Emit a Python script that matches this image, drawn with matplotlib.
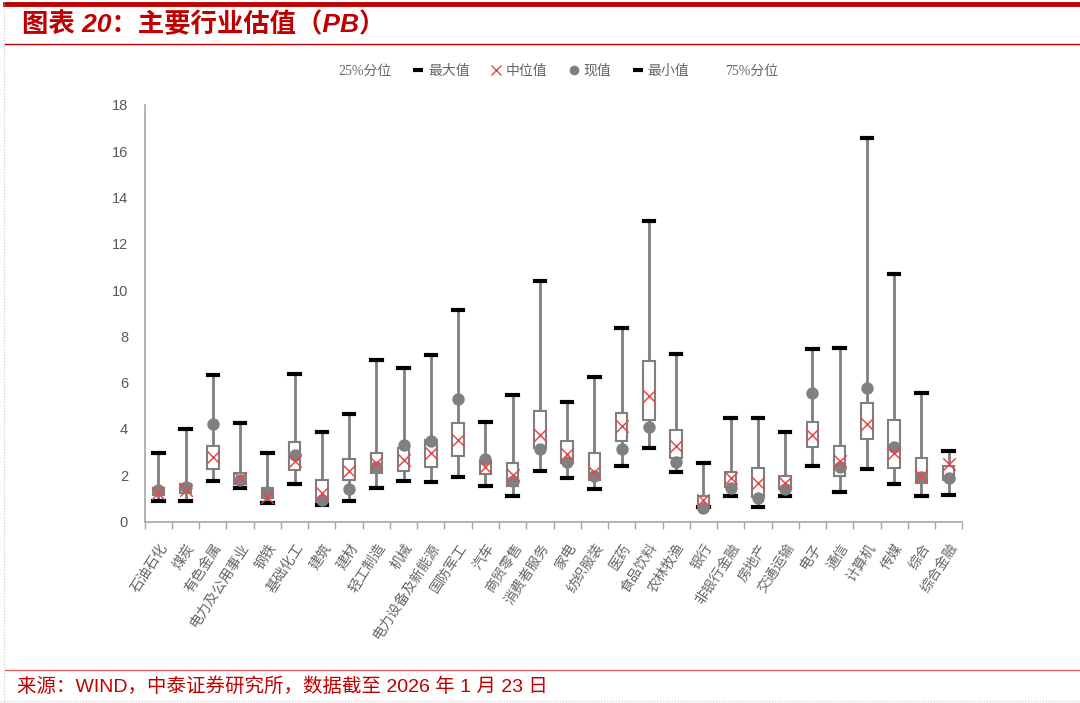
import numpy as np
import matplotlib
matplotlib.use("Agg")
import matplotlib.pyplot as plt
from matplotlib.lines import Line2D

plt.rcParams["font.family"] = ["Liberation Sans", "Noto Sans CJK SC", "DejaVu Sans"]

industries = ["石油石化", "煤炭", "有色金属", "电力及公用事业", "钢铁", "基础化工", "建筑", "建材",
              "轻工制造", "机械", "电力设备及新能源", "国防军工", "汽车", "商贸零售", "消费者服务",
              "家电", "纺织服装", "医药", "食品饮料", "农林牧渔", "银行", "非银行金融", "房地产",
              "交通运输", "电子", "通信", "计算机", "传媒", "综合", "综合金融"]
pb_max = [2.95, 3.99, 6.33, 4.24, 2.95, 6.37, 3.86, 4.63, 6.98, 6.63, 7.20, 9.12, 4.29, 5.47, 10.40,
          5.15, 6.26, 8.35, 12.96, 7.24, 2.53, 4.49, 4.49, 3.88, 7.44, 7.48, 16.55, 10.69, 5.54, 3.05]
pb_q3 = [1.44, 1.63, 3.28, 2.12, 1.44, 3.42, 1.80, 2.69, 2.98, 3.17, 3.53, 4.27, 2.62, 2.52, 4.79,
         3.48, 2.95, 4.71, 6.94, 3.96, 1.12, 2.16, 2.30, 1.97, 4.32, 3.27, 5.11, 4.39, 2.76, 2.42]
pb_median = [1.22, 1.37, 2.81, 1.87, 1.08, 2.60, 1.25, 2.20, 2.52, 2.66, 2.97, 3.53, 2.37, 2.01, 3.74,
             2.91, 2.13, 4.13, 5.42, 3.28, 0.94, 1.89, 1.68, 1.65, 3.74, 2.63, 4.22, 2.98, 1.97, 2.47]
pb_q1 = [1.15, 1.22, 2.26, 1.63, 1.00, 2.23, 0.86, 1.80, 2.12, 2.20, 2.37, 2.85, 2.06, 1.54, 3.17,
         2.52, 1.80, 3.48, 4.39, 2.76, 0.68, 1.51, 1.08, 1.40, 3.24, 1.97, 3.55, 2.30, 1.65, 1.80]
pb_min = [0.91, 0.91, 1.76, 1.44, 0.82, 1.63, 0.72, 0.91, 1.44, 1.76, 1.69, 1.94, 1.55, 1.11, 2.20,
          1.87, 1.41, 2.42, 3.19, 2.13, 0.62, 1.11, 0.65, 1.11, 2.40, 1.29, 2.26, 1.63, 1.11, 1.15]
pb_now = [1.37, 1.48, 4.20, 1.80, 1.30, 2.88, 0.93, 1.40, 2.35, 3.31, 3.48, 5.30, 2.69, 1.77, 3.14,
          2.59, 1.97, 3.14, 4.07, 2.56, 0.58, 1.47, 1.00, 1.40, 5.57, 2.37, 5.76, 3.21, 1.91, 1.87]

RED = "#C00000"
GREY = "#7F7F7F"
TXT = "#666666"

fig = plt.figure(figsize=(10.8, 7.03), dpi=100)
ax = fig.add_axes([0.134, 0.258, 0.757, 0.593])

x = np.arange(len(industries))
stats = [dict(med=m, q1=a, q3=b, whislo=lo, whishi=hi, fliers=[])
         for m, a, b, lo, hi in zip(pb_median, pb_q1, pb_q3, pb_min, pb_max)]
ax.bxp(stats, positions=x, widths=0.42, patch_artist=True, showfliers=False,
       boxprops=dict(facecolor="white", edgecolor=GREY, linewidth=1.5),
       whiskerprops=dict(color=GREY, linewidth=2),
       capprops=dict(color="black", linewidth=3),
       medianprops=dict(visible=False), capwidths=0.38)
for art in ax.patches:
    art.set_zorder(3)
ax.scatter(x, pb_now, s=80, color="#808080", zorder=4, linewidths=0)
ax.scatter(x, pb_median, s=80, marker="x", color="#E8484A", linewidths=1.1, zorder=5)

ax.set_xlim(-0.5, len(industries) - 0.5)
ax.set_ylim(0, 18)
ax.set_yticks(np.arange(0, 19, 2))
ax.tick_params(axis="y", length=0, labelsize=10.5, labelcolor="#595959", pad=12)
ax.set_xticks(x)
ax.set_xticklabels(industries, rotation=57, ha="right", rotation_mode="anchor",
                   fontsize=10, color=TXT, family=["Noto Sans CJK SC", "DejaVu Sans"])
ax.tick_params(axis="x", which="major", length=0, pad=14)
ax.set_xticks(np.arange(-0.5, len(industries)), minor=True)
ax.tick_params(axis="x", which="minor", length=5, color="#A6A6A6", width=1)
for s in ["top", "right"]:
    ax.spines[s].set_visible(False)
for s in ["left", "bottom"]:
    ax.spines[s].set_color("#A6A6A6")
    ax.spines[s].set_linewidth(1.2)

handles = [
    Line2D([0], [0], linestyle="", marker=None, label="25%分位"),
    Line2D([0], [0], linestyle="", marker="_", markersize=7, markeredgewidth=3, color="black", label="最大值"),
    Line2D([0], [0], linestyle="", marker="x", markersize=7, color="#E8484A", label="中位值"),
    Line2D([0], [0], linestyle="", marker="o", markersize=6, color="#808080", label="现值"),
    Line2D([0], [0], linestyle="", marker="_", markersize=7, markeredgewidth=3, color="black", label="最小值"),
    Line2D([0], [0], linestyle="", marker=None, label="75%分位"),
]
fig.legend(handles=handles, loc="center", bbox_to_anchor=(0.51, 0.899), ncol=6, frameon=False,
           handlelength=0.8, handletextpad=0.3, columnspacing=1.5, labelcolor=TXT,
           prop=dict(family=["Liberation Serif", "Noto Sans CJK SC"], size=10))

# header / footer decorations
fig.add_artist(Line2D([0.005, 1.0], [0.995, 0.995], color=RED, linewidth=3.5))
fig.add_artist(Line2D([0.005, 1.0], [0.937, 0.937], color=RED, linewidth=1))
fig.add_artist(Line2D([0.005, 1.0], [0.047, 0.047], color="#E06060", linewidth=1))
fig.add_artist(Line2D([0.004, 0.004], [0.0, 1.0], color="#C8C8C8", linewidth=0.8, linestyle=":"))
fig.add_artist(Line2D([0.0, 1.0], [0.003, 0.003], color="#C8C8C8", linewidth=0.8, linestyle=":"))
fig.text(0.02, 0.966, "图表 20：主要行业估值（PB）", color=RED, fontsize=19, fontweight="bold",
         style="italic", va="center", ha="left",
         family=["Liberation Sans", "Noto Sans CJK SC"])
fig.text(0.016, 0.024, "来源：WIND，中泰证券研究所，数据截至 2026 年 1 月 23 日", color=RED,
         fontsize=14, va="center", ha="left", family=["Liberation Sans", "Noto Sans CJK SC"])

fig.savefig("out.png", dpi=100)
